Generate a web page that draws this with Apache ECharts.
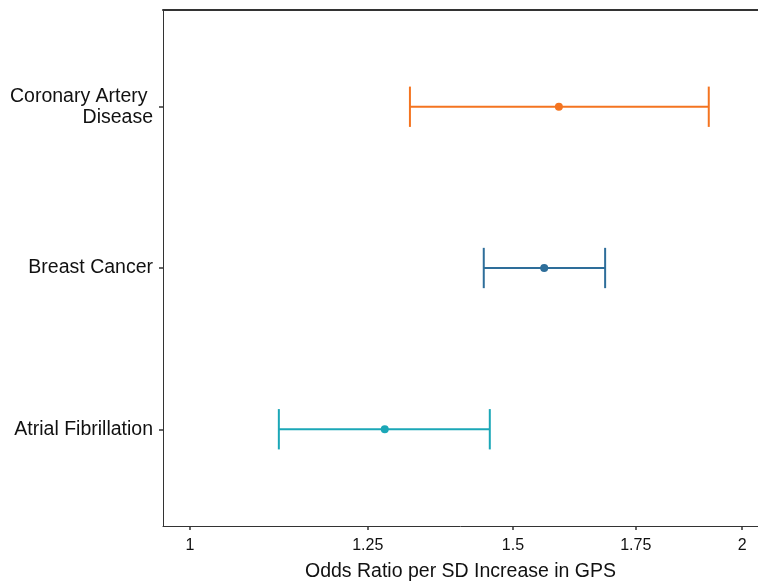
<!DOCTYPE html>
<html>
<head>
<meta charset="utf-8">
<script src="https://cdn.jsdelivr.net/npm/echarts@6/dist/echarts.min.js"></script>
<style>
html,body{margin:0;padding:0;background:#fff;}
#chart{width:758px;height:583px;}
</style>
</head>
<body>
<div id="chart"></div>
<script>
const categories = ['Atrial Fibrillation', 'Breast Cancer', 'Coronary Artery \nDisease'];
const oddsRatio = [1.277, 1.560, 1.589];
const ciLower = [1.118, 1.446, 1.318];
const ciUpper = [1.457, 1.684, 1.918];
const xTicks = [1, 1.25, 1.5, 1.75, 2];
const colors = ['#1BA7B7', '#2E6E9A', '#F47420'];

const chart = echarts.init(document.getElementById('chart'), null, {renderer: 'canvas'});
const FONT = '"Liberation Sans", Arial, Helvetica, sans-serif';

const barData = categories.map((c, i) => ({
  value: [Math.log(ciLower[i]), Math.log(ciUpper[i]), i],
  itemStyle: {color: colors[i]}
}));
const pointData = categories.map((c, i) => ({
  value: [Math.log(oddsRatio[i]), i],
  itemStyle: {color: colors[i], opacity: 1}
}));

const capHalf = 0.125;

chart.setOption({
  animation: false,
  backgroundColor: '#fff',
  grid: {left: 163, right: 0, top: 10, bottom: 57, containLabel: false, outerBoundsMode: 'none'},
  xAxis: [{
    type: 'value',
    min: -0.0339,
    max: 0.7131,
    position: 'bottom',
    name: 'Odds Ratio per SD Increase in GPS',
    nameLocation: 'middle',
    nameGap: 36,
    nameTextStyle: {fontFamily: FONT, fontSize: 19.5, color: '#111'},
    axisLine: {show: true, onZero: false, lineStyle: {color: '#333', width: 1}},
    axisTick: {show: true, length: 4, customValues: xTicks.map(Math.log), lineStyle: {color: '#333', width: 1.5}},
    axisLabel: {
      customValues: xTicks.map(Math.log),
      margin: 12,
      fontFamily: FONT, fontSize: 16, color: '#111',
      formatter: v => String(+Math.exp(v).toFixed(2))
    },
    splitLine: {show: false}
  }, {
    type: 'value',
    min: -0.0339,
    max: 0.7131,
    position: 'top',
    axisLine: {show: true, onZero: false, lineStyle: {color: '#333', width: 2}},
    axisTick: {show: false},
    axisLabel: {show: false},
    splitLine: {show: false}
  }],
  yAxis: {
    type: 'value',
    min: -0.6,
    max: 2.6,
    axisLine: {show: true, onZero: false, lineStyle: {color: '#333', width: 1}},
    axisTick: {show: true, length: 4, customValues: [0, 1, 2], lineStyle: {color: '#333', width: 1.5}},
    axisLabel: {
      customValues: [0, 1, 2],
      margin: 10,
      fontFamily: FONT, fontSize: 19.5, color: '#111', lineHeight: 21, align: 'right',
      formatter: v => categories[Math.round(v)]
    },
    splitLine: {show: false}
  },
  series: [{
    type: 'custom',
    xAxisIndex: 0,
    data: barData,
    renderItem: function (params, api) {
      const lo = api.value(0), hi = api.value(1), y = api.value(2);
      const pL = api.coord([lo, y]);
      const pH = api.coord([hi, y]);
      const lT = api.coord([lo, y + capHalf]);
      const lB = api.coord([lo, y - capHalf]);
      const hT = api.coord([hi, y + capHalf]);
      const hB = api.coord([hi, y - capHalf]);
      const color = api.visual('color');
      const st = {stroke: color, lineWidth: 2, fill: null};
      return {
        type: 'group',
        children: [
          {type: 'line', shape: {x1: pL[0], y1: pL[1], x2: pH[0], y2: pH[1]}, style: st},
          {type: 'line', shape: {x1: lT[0], y1: lT[1], x2: lB[0], y2: lB[1]}, style: st},
          {type: 'line', shape: {x1: hT[0], y1: hT[1], x2: hB[0], y2: hB[1]}, style: st}
        ]
      };
    },
    encode: {x: [0, 1], y: 2}
  }, {
    type: 'scatter',
    xAxisIndex: 0,
    data: pointData,
    symbol: 'circle',
    symbolSize: 8,
    itemStyle: {opacity: 1},
    z: 5
  }]
});
</script>
</body>
</html>
